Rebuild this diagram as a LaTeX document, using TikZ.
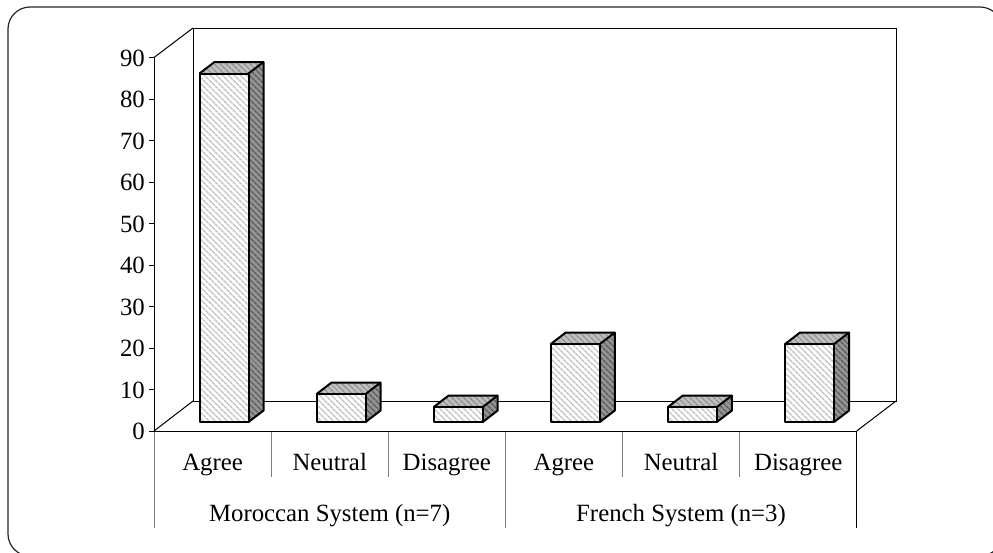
\documentclass[tikz,border=0pt]{standalone}
\usepackage{fontspec}
\setmainfont{Liberation Serif}
\usetikzlibrary{patterns.meta}
\newcommand{\mybar}[3]{%
  \pgfmathsetmacro{\bxl}{#1+11.4-24.5}%
  \pgfmathsetmacro{\bxr}{#1+11.4+24.5}%
  \pgfmathsetmacro{\bxt}{#2}%
  \pgfmathsetmacro{\bxb}{422-11.5}%
  \path[frontface] (\bxl,422) rectangle (\bxr,\bxt);
  \path[topface] (\bxl,\bxt) -- (\bxr,\bxt) -- ++(15,-11.5) -- ++(-49,0) -- cycle;
  \path[sideface] (\bxr,422) -- (\bxr,\bxt) -- ++(15,-11.5) -- (\bxr+15,\bxb) -- cycle;
  \draw[barline] (\bxl,422) rectangle (\bxr,\bxt);
  \draw[barline] (\bxl,\bxt) -- ++(15,-11.5) -- ++(49,0) -- (\bxr+15,\bxb) -- (\bxr,422);
  \draw[barline] (\bxr,\bxt) -- ++(15,-11.5);
  \coordinate (#3) at (\bxl,\bxt);
}
\begin{document}
\begin{tikzpicture}[x=1pt,y=-1pt,
  lab/.style={font=\fontsize{24.8}{29}\selectfont, inner sep=0pt, anchor=base},
  ticklab/.style={font=\fontsize{24.8}{29}\selectfont, inner sep=0pt, anchor=base east},
  axisline/.style={line width=1pt, black},
  divline/.style={line width=1pt, black!50},
  barline/.style={line width=2pt, black, line join=round},
  frontface/.style={preaction={fill=white}, pattern={Lines[angle=-45,distance=4pt,line width=1.4pt]}, pattern color=black!25},
  topface/.style={preaction={fill=black!25}, pattern={Lines[angle=-45,distance=4pt,line width=1.4pt]}, pattern color=black!45},
  sideface/.style={preaction={fill=black!42}, pattern={Lines[angle=-45,distance=4pt,line width=1.4pt]}, pattern color=black!65},
]
\useasboundingbox (0,0) rectangle (993,552);
% outer frame
\draw[line width=1.2pt, black!85, rounded corners=22pt] (8,7) rectangle (1002,556);
% back wall and floor
\draw[axisline] (193,401) -- (193,28) -- (896,28) -- (896,401) -- cycle;
\draw[axisline] (154,431) -- (193,401);
\draw[axisline] (856.7,431) -- (896,401);
\draw[axisline] (154,57.5) -- (193,28);
% category dividers
\foreach \x in {271.1,388.2,622.5,739.6} \draw[divline] (\x,431) -- (\x,477);
\foreach \x in {154,505.4} \draw[divline] (\x,431) -- (\x,528);
\draw[axisline] (856.7,431) -- (856.7,528);
% axes
\draw[axisline] (154,431) -- (856.7,431);
\draw[axisline] (154,431) -- (154,57.5);
\foreach \v in {0,...,9} {
  \pgfmathsetmacro{\ty}{431-41.5*\v}
  \draw[axisline] (149,\ty) -- (154,\ty);
  \node[ticklab] (t\v) at (145,\ty+8.5) {\pgfmathparse{int(10*\v)}\pgfmathresult};
}
% bars
\mybar{212.6}{73.5}{b1}
\mybar{329.7}{394}{b2}
\mybar{446.8}{407}{b3}
\mybar{563.9}{344}{b4}
\mybar{681.0}{407}{b5}
\mybar{798.2}{344}{b6}
% labels
\node[lab] (l1) at (212.6,470) {Agree};
\node[lab] (l2) at (329.7,470) {Neutral};
\node[lab] (l3) at (446.8,470) {Disagree};
\node[lab] (l4) at (563.9,470) {Agree};
\node[lab] (l5) at (681.0,470) {Neutral};
\node[lab] (l6) at (798.2,470) {Disagree};
\node[lab] (g1) at (329.7,521) {Moroccan System (n=7)};
\node[lab] (g2) at (681.0,521) {French System (n=3)};
\end{tikzpicture}
\end{document}
